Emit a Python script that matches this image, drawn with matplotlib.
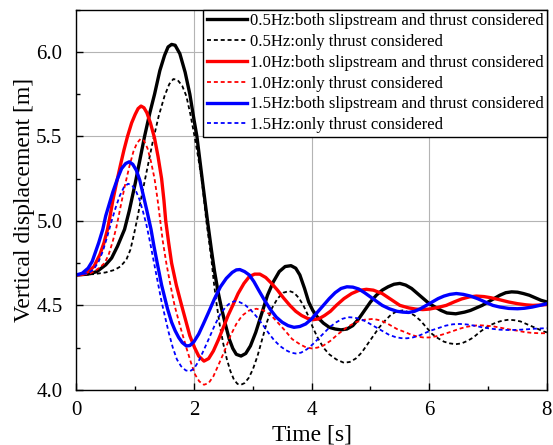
import matplotlib
matplotlib.use("Agg")
import matplotlib.pyplot as plt
from matplotlib.ticker import MultipleLocator

plt.rcParams['font.family'] = ['Liberation Serif', 'DejaVu Serif']

# values (time [s], vertical displacement [m])
t_05_both = [0, 0.2, 0.35, 0.5, 0.6, 0.7, 0.82, 0.9, 1.0, 1.08, 1.16, 1.25, 1.33, 1.42, 1.5,
             1.56, 1.62, 1.68, 1.76, 1.85, 1.93, 2.0, 2.05, 2.1, 2.15, 2.23, 2.3, 2.35, 2.41, 2.47,
             2.54, 2.6, 2.66, 2.72, 2.8, 2.88, 2.96, 3.05, 3.15, 3.25, 3.35, 3.45, 3.55, 3.65, 3.73,
             3.8, 3.88, 3.95, 4.02, 4.1, 4.2, 4.3, 4.4, 4.5, 4.6, 4.7, 4.8, 4.9, 5.0, 5.1,
             5.2, 5.3, 5.4, 5.5, 5.6, 5.7, 5.8, 5.9, 6.0, 6.1, 6.2, 6.3, 6.45, 6.6, 6.7,
             6.8, 6.9, 7.0, 7.1, 7.2, 7.3, 7.4, 7.5, 7.6, 7.7, 7.8, 7.9, 8.0]
y_05_both = [4.68, 4.685, 4.7, 4.74, 4.78, 4.85, 4.95, 5.06, 5.22, 5.36, 5.5, 5.64, 5.75, 5.89, 5.98,
             6.03, 6.045, 6.04, 5.99, 5.88, 5.75, 5.6, 5.5, 5.36, 5.22, 5.0, 4.82, 4.7, 4.58, 4.48,
             4.38, 4.3, 4.245, 4.21, 4.2, 4.215, 4.26, 4.34, 4.45, 4.56, 4.64, 4.7, 4.73, 4.735, 4.72,
             4.68, 4.6, 4.52, 4.47, 4.43, 4.395, 4.37, 4.36, 4.355, 4.36, 4.38, 4.42, 4.47, 4.52, 4.56,
             4.59, 4.61, 4.625, 4.63, 4.62, 4.6, 4.57, 4.54, 4.51, 4.49, 4.47, 4.455, 4.45, 4.46, 4.47,
             4.485, 4.5, 4.52, 4.54, 4.56, 4.575, 4.58, 4.578, 4.57, 4.56, 4.545, 4.53, 4.52]

t_05_thrust = [0, 0.3, 0.5, 0.65, 0.75, 0.85, 0.92, 0.98, 1.04, 1.1, 1.2, 1.3, 1.4, 1.5, 1.58,
               1.65, 1.72, 1.8, 1.87, 1.94, 2.01, 2.07, 2.13, 2.17, 2.21, 2.26, 2.3, 2.34, 2.38, 2.44,
               2.5, 2.56, 2.62, 2.68, 2.74, 2.8, 2.86, 2.93, 3.0, 3.08, 3.16, 3.24, 3.32, 3.42, 3.52,
               3.62, 3.7, 3.78, 3.86, 3.94, 4.02, 4.1, 4.2, 4.3, 4.42, 4.55, 4.65, 4.75, 4.85, 4.95,
               5.05, 5.15, 5.25, 5.35, 5.45, 5.55, 5.65, 5.75, 5.85, 5.95, 6.05, 6.15, 6.25, 6.35, 6.45,
               6.55, 6.65, 6.75, 6.85, 6.95, 7.05, 7.15, 7.25, 7.35, 7.45, 7.55, 7.65, 7.75, 7.85, 7.95, 8.0]
y_05_thrust = [4.68, 4.685, 4.695, 4.71, 4.73, 4.77, 4.83, 4.92, 5.02, 5.13, 5.3, 5.47, 5.62, 5.74, 5.81,
               5.84, 5.835, 5.8, 5.74, 5.63, 5.5, 5.38, 5.25, 5.13, 5.0, 4.87, 4.76, 4.63, 4.52, 4.38,
               4.27, 4.18, 4.11, 4.06, 4.035, 4.03, 4.04, 4.07, 4.12, 4.2, 4.3, 4.4, 4.48, 4.54, 4.575,
               4.585, 4.575, 4.545, 4.5, 4.44, 4.37, 4.31, 4.25, 4.21, 4.18, 4.16, 4.165, 4.185, 4.22, 4.27,
               4.32, 4.37, 4.41, 4.445, 4.465, 4.47, 4.46, 4.44, 4.41, 4.37, 4.33, 4.305, 4.285, 4.275, 4.27,
               4.275, 4.29, 4.31, 4.34, 4.365, 4.385, 4.4, 4.41, 4.415, 4.412, 4.405, 4.39, 4.375, 4.36, 4.345, 4.34]

t_10_both = [0, 0.1, 0.2, 0.3, 0.4, 0.47, 0.53, 0.58, 0.62, 0.68, 0.75, 0.81, 0.87, 0.94, 1.0,
             1.05, 1.1, 1.15, 1.2, 1.26, 1.33, 1.39, 1.45, 1.49, 1.52, 1.57, 1.62, 1.7, 1.79, 1.86,
             1.93, 2.01, 2.08, 2.17, 2.25, 2.33, 2.42, 2.5, 2.58, 2.66, 2.75, 2.85, 2.94, 3.03, 3.12,
             3.22, 3.32, 3.42, 3.52, 3.63, 3.73, 3.83, 3.93, 4.02, 4.12, 4.22, 4.32, 4.42, 4.55, 4.68,
             4.8, 4.93, 5.05, 5.2, 5.35, 5.5, 5.65, 5.77, 5.89, 6.0, 6.15, 6.29, 6.42, 6.55, 6.68,
             6.8, 6.93, 7.05, 7.2, 7.35, 7.5, 7.65, 7.76, 7.9, 8.0]
y_10_both = [4.68, 4.683, 4.7, 4.73, 4.8, 4.87, 4.95, 5.04, 5.12, 5.22, 5.33, 5.42, 5.5, 5.58, 5.63,
             5.665, 5.68, 5.67, 5.64, 5.58, 5.49, 5.38, 5.25, 5.12, 5.0, 4.87, 4.75, 4.62, 4.5, 4.41,
             4.32, 4.25, 4.2, 4.17, 4.185, 4.23, 4.3, 4.37, 4.44, 4.5, 4.57, 4.63, 4.67, 4.685, 4.685,
             4.665, 4.63, 4.59, 4.545, 4.5, 4.465, 4.44, 4.423, 4.415, 4.42, 4.44, 4.465, 4.5, 4.54, 4.57,
             4.588, 4.595, 4.59, 4.57, 4.535, 4.5, 4.485, 4.478, 4.475, 4.478, 4.488, 4.5, 4.52, 4.538, 4.55,
             4.555, 4.552, 4.545, 4.533, 4.52, 4.51, 4.503, 4.5, 4.502, 4.505]

t_10_thrust = [0, 0.2, 0.3, 0.4, 0.48, 0.55, 0.62, 0.68, 0.75, 0.82, 0.9, 0.97, 1.03, 1.09, 1.15,
               1.21, 1.27, 1.33, 1.38, 1.42, 1.47, 1.53, 1.6, 1.67, 1.77, 1.87, 1.95, 2.02, 2.09, 2.17,
               2.25, 2.33, 2.42, 2.52, 2.62, 2.72, 2.82, 2.94, 3.06, 3.18, 3.3, 3.42, 3.55, 3.67, 3.8,
               3.9, 4.0, 4.1, 4.2, 4.32, 4.45, 4.6, 4.75, 4.9, 5.05, 5.18, 5.3, 5.45, 5.6, 5.7,
               5.8, 5.9, 6.0, 6.12, 6.25, 6.38, 6.5, 6.62, 6.75, 6.86, 6.97, 7.1, 7.25, 7.4, 7.5,
               7.62, 7.75, 7.88, 8.0]
y_10_thrust = [4.68, 4.685, 4.7, 4.725, 4.75, 4.8, 4.88, 4.96, 5.08, 5.2, 5.32, 5.41, 5.46, 5.485, 5.475,
               5.43, 5.35, 5.25, 5.13, 5.02, 4.88, 4.75, 4.62, 4.5, 4.37, 4.25, 4.16, 4.09, 4.05, 4.03,
               4.04, 4.08, 4.15, 4.23, 4.32, 4.39, 4.44, 4.47, 4.48, 4.47, 4.445, 4.4, 4.35, 4.3, 4.27,
               4.252, 4.245, 4.25, 4.262, 4.29, 4.33, 4.37, 4.4, 4.415, 4.42, 4.41, 4.39, 4.36, 4.34, 4.325,
               4.315, 4.31, 4.31, 4.317, 4.33, 4.345, 4.36, 4.372, 4.38, 4.382, 4.38, 4.375, 4.365, 4.355, 4.35,
               4.342, 4.337, 4.335, 4.335]

t_15_both = [0, 0.1, 0.2, 0.27, 0.33, 0.38, 0.45, 0.5, 0.56, 0.62, 0.7, 0.77, 0.84, 0.9, 0.96,
             1.02, 1.08, 1.14, 1.2, 1.27, 1.32, 1.37, 1.41, 1.45, 1.5, 1.55, 1.62, 1.68, 1.74, 1.8,
             1.87, 1.93, 2.0, 2.08, 2.16, 2.25, 2.35, 2.45, 2.55, 2.65, 2.72, 2.78, 2.86, 2.94, 3.02,
             3.1, 3.2, 3.3, 3.4, 3.5, 3.6, 3.7, 3.8, 3.9, 4.0, 4.1, 4.2, 4.3, 4.4, 4.5,
             4.6, 4.7, 4.8, 4.9, 5.0, 5.1, 5.2, 5.32, 5.45, 5.55, 5.65, 5.75, 5.85, 5.95, 6.05,
             6.15, 6.25, 6.35, 6.46, 6.58, 6.7, 6.82, 6.95, 7.08, 7.2, 7.35, 7.5, 7.62, 7.75, 7.88, 8.0]
y_15_both = [4.68, 4.69, 4.72, 4.76, 4.82, 4.87, 4.95, 5.03, 5.1, 5.17, 5.25, 5.31, 5.34, 5.35, 5.335,
             5.3, 5.24, 5.15, 5.06, 4.95, 4.85, 4.76, 4.69, 4.62, 4.55, 4.48, 4.4, 4.35, 4.31, 4.28,
             4.26, 4.262, 4.285, 4.33, 4.39, 4.46, 4.54, 4.61, 4.66, 4.695, 4.71, 4.712, 4.7, 4.68, 4.64,
             4.59, 4.53, 4.475, 4.43, 4.4, 4.38, 4.37, 4.375, 4.39, 4.42, 4.46, 4.5, 4.54, 4.575, 4.6,
             4.61, 4.608, 4.597, 4.575, 4.55, 4.525, 4.5, 4.48, 4.465, 4.46, 4.458, 4.465, 4.48, 4.5, 4.52,
             4.54, 4.555, 4.565, 4.57, 4.565, 4.555, 4.54, 4.52, 4.5, 4.49, 4.482, 4.48, 4.483, 4.49, 4.5, 4.51]

t_15_thrust = [0, 0.2, 0.3, 0.38, 0.45, 0.52, 0.6, 0.67, 0.74, 0.81, 0.88, 0.95, 1.01, 1.07, 1.13,
               1.19, 1.25, 1.3, 1.35, 1.4, 1.45, 1.51, 1.57, 1.64, 1.71, 1.78, 1.86, 1.93, 2.0, 2.08,
               2.16, 2.25, 2.35, 2.45, 2.55, 2.62, 2.69, 2.77, 2.86, 2.96, 3.06, 3.16, 3.26, 3.36, 3.46,
               3.56, 3.65, 3.73, 3.82, 3.92, 4.02, 4.12, 4.22, 4.32, 4.42, 4.52, 4.62, 4.72, 4.82, 4.92,
               5.02, 5.12, 5.22, 5.32, 5.42, 5.52, 5.62, 5.72, 5.82, 5.92, 6.02, 6.15, 6.28, 6.4, 6.52,
               6.64, 6.76, 6.9, 7.05, 7.2, 7.35, 7.5, 7.65, 7.8, 8.0]
y_15_thrust = [4.68, 4.69, 4.715, 4.76, 4.82, 4.9, 5.0, 5.08, 5.15, 5.2, 5.22, 5.21, 5.18, 5.13, 5.06,
               4.98, 4.88, 4.79, 4.7, 4.61, 4.52, 4.43, 4.34, 4.25, 4.18, 4.14, 4.115, 4.11, 4.125, 4.17,
               4.23, 4.3, 4.38, 4.45, 4.495, 4.515, 4.525, 4.52, 4.505, 4.475, 4.435, 4.39, 4.34, 4.295, 4.26,
               4.235, 4.22, 4.215, 4.22, 4.24, 4.27, 4.305, 4.34, 4.375, 4.4, 4.42, 4.43, 4.428, 4.42, 4.405,
               4.385, 4.365, 4.345, 4.325, 4.313, 4.306, 4.305, 4.31, 4.32, 4.335, 4.35, 4.365, 4.38, 4.388, 4.39,
               4.387, 4.38, 4.37, 4.362, 4.356, 4.354, 4.355, 4.358, 4.362, 4.365]

labels = ["0.5Hz:both slipstream and thrust considered",
          "0.5Hz:only thrust considered",
          "1.0Hz:both slipstream and thrust considered",
          "1.0Hz:only thrust considered",
          "1.5Hz:both slipstream and thrust considered",
          "1.5Hz:only thrust considered"]

fig = plt.figure(figsize=(5.53, 4.45), dpi=100)
ax = fig.add_axes([0.138, 0.124, 0.851, 0.854])

solid_w = 2.4
dash_w = 1.3
dash = (2.2, 1.6)
ax.plot(t_05_both, y_05_both, color='black', lw=solid_w, label=labels[0])
ax.plot(t_05_thrust, y_05_thrust, color='black', lw=dash_w, dashes=dash, label=labels[1])
ax.plot(t_10_both, y_10_both, color='red', lw=solid_w, label=labels[2])
ax.plot(t_10_thrust, y_10_thrust, color='red', lw=dash_w, dashes=dash, label=labels[3])
ax.plot(t_15_both, y_15_both, color='blue', lw=solid_w, label=labels[4])
ax.plot(t_15_thrust, y_15_thrust, color='blue', lw=dash_w, dashes=dash, label=labels[5])

ax.set_xlim(0, 8)
ax.set_ylim(4.0, 6.25)
ax.xaxis.set_major_locator(MultipleLocator(2))
ax.xaxis.set_minor_locator(MultipleLocator(1))
ax.yaxis.set_major_locator(MultipleLocator(0.5))
ax.yaxis.set_minor_locator(MultipleLocator(0.25))
ax.set_yticks([4.0, 4.5, 5.0, 5.5, 6.0])
ax.set_yticklabels(['4.0', '4.5', '5.0', '5.5', '6.0'])
ax.grid(True, which='major', color='#b4b4b4', lw=0.8)
ax.set_axisbelow(True)
ax.tick_params(which='both', direction='in', labelsize=15, top=False, right=False)
ax.tick_params(which='major', length=5, width=1)
ax.tick_params(which='minor', length=3, width=1)
ax.tick_params(axis='y', pad=10)
ax.tick_params(axis='x', pad=8)
for s in ax.spines.values():
    s.set_linewidth(1.0)

ax.set_xlabel('Time [s]', fontsize=17, labelpad=3)
ax.set_ylabel('Vertical displacement [m]', fontsize=17, labelpad=1)

leg = ax.legend(loc='upper right', fontsize=12, frameon=True, fancybox=False,
                edgecolor='black', framealpha=1, borderaxespad=0, borderpad=0.2,
                labelspacing=0.29, handlelength=2.4, handletextpad=0.2)
leg.get_frame().set_linewidth(1.0)

fig.savefig('out.png', dpi=100)
